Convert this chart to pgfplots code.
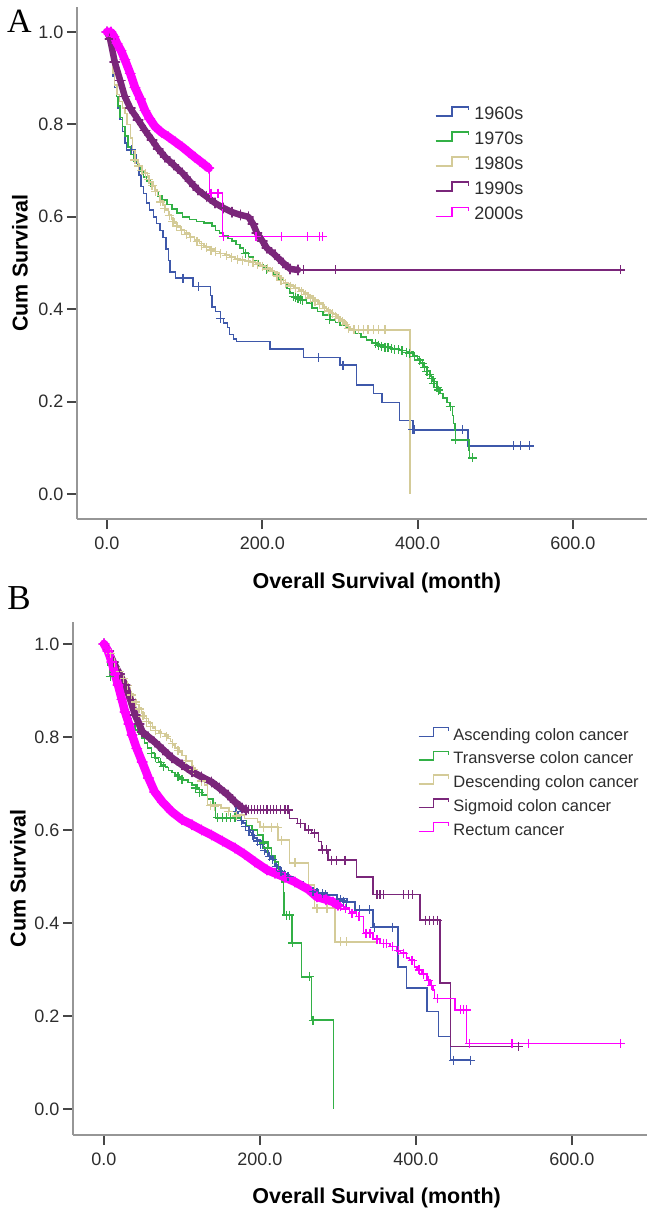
\documentclass[border=0pt]{standalone}
\usepackage{fontspec}
\setmainfont{Liberation Sans}
\newfontfamily\letterfont{Liberation Serif}
\usepackage{pgfplots}
\pgfplotsset{compat=1.18}

\definecolor{c60}{RGB}{62,88,170}
\definecolor{c70}{RGB}{50,176,70}
\definecolor{c80}{RGB}{212,203,152}
\definecolor{c90}{RGB}{122,38,122}
\definecolor{c00}{RGB}{255,0,255}
\definecolor{axgray}{RGB}{150,150,150}
\definecolor{tickgray}{RGB}{70,70,70}
\definecolor{labgray}{RGB}{45,45,45}

\pgfplotsset{
  km/.style={
    scale only axis,
    axis x line=bottom, axis y line=left,
    axis line style={-, draw=axgray, line width=2.4pt},
    tick align=outside,
    major tick length=10pt,
    tick style={draw=tickgray, line width=2pt},
    xtick={0,200,400,600}, xticklabels={0.0,200.0,400.0,600.0},
    ytick={0,0.2,0.4,0.6,0.8,1.0}, yticklabels={0.0,0.2,0.4,0.6,0.8,1.0},
    ticklabel style={font=\fontsize{18}{20}\selectfont, text=labgray},
    xticklabel style={yshift=-4pt},
    label style={font=\fontsize{21.5}{24}\selectfont\bfseries, text=black},
    legend cell align=left,
    step/.style={const plot, line width=1.5pt, forget plot},
    band/.style={line width=##1, line join=round, line cap=round, forget plot,
      mark=+, mark size=4.8pt, mark options={line width=1.6pt, solid}},
    cens/.style={only marks, mark=+, mark size=4.5pt, mark options={line width=1.2pt, solid}, forget plot},
  }
}

\begin{document}
\begin{tikzpicture}
\path[use as bounding box] (0,0) rectangle (653pt,-1215pt);

% ---------------- Panel A ----------------
\begin{axis}[km,
  at={(77pt,-519pt)}, anchor=south west,
  width=570pt, height=512pt,
  xmin=-38.6, xmax=695.4, ymin=-0.0541, ymax=1.054,
  xlabel={Overall Survival (month)}, ylabel={Cum Survival},
  xlabel style={at={(axis description cs:0.526,-0.125)}, anchor=center},
  ylabel style={at={(axis description cs:-0.1,0.5)}, anchor=center},
  legend image code/.code={\draw[#1] (0pt,-3.2pt) -- (16.5pt,-3.2pt) -- (16.5pt,5.8pt) -- (33pt,5.8pt) -- (33pt,2.5pt);},
  legend style={draw=none, fill=none, inner sep=0pt, outer sep=0pt,
    at={(axis description cs:0.628,0.806)}, anchor=north west,
    font=\fontsize{18}{20}\selectfont, row sep=12pt,
    cells={anchor=west},
    nodes={inner sep=0pt, text height=13pt, text depth=0pt, text=labgray},
    /tikz/every odd column/.append style={column sep=5pt}},
]
\addlegendimage{c60, line width=1.5pt}
\addlegendimage{c70, line width=1.5pt}
\addlegendimage{c80, line width=1.5pt}
\addlegendimage{c90, line width=1.5pt}
\addlegendimage{c00, line width=1.5pt}
\legend{1960s,1970s,1980s,1990s,2000s}

% 1960s
\addplot[c60, step] coordinates {(0,1.0)(2,0.985)(4,0.96)(6,0.935)(8,0.905)(10,0.88)(12,0.86)(14,0.835)(17,0.81)(20,0.785)(23,0.76)(25,0.745)(35,0.735)(38,0.715)(41,0.69)(44,0.665)(47,0.65)(51,0.63)(55,0.615)(60,0.6)(64,0.585)(68,0.57)(72,0.555)(76,0.53)(79,0.505)(81,0.481)(88,0.467)(111,0.449)(133,0.43)(135,0.405)(140,0.395)(146,0.38)(150,0.37)(155,0.36)(158,0.345)(163,0.335)(167,0.330)(210,0.314)(253,0.295)(300,0.279)(321,0.236)(343,0.218)(354,0.198)(377,0.159)(394,0.139)(465,0.104)(549,0.104)};
\addplot[c60, cens] coordinates {(32,0.745)(98,0.467)(118,0.449)(146,0.38)(272,0.295)(304,0.279)(394,0.139)(396,0.139)(458,0.139)(523,0.104)(532,0.104)(544,0.104)};

% 1970s
\addplot[c70, step] coordinates {(0,1.0)(2,0.98)(4,0.96)(6,0.935)(8,0.91)(10,0.885)(12,0.86)(14,0.84)(17,0.815)(20,0.795)(23,0.775)(27,0.751)(31,0.735)(35,0.72)(39,0.71)(43,0.698)(47,0.686)(51,0.677)(56,0.665)(61,0.655)(66,0.645)(71,0.636)(77,0.627)(84,0.617)(90,0.608)(97,0.60)(106,0.594)(115,0.59)(125,0.586)(135,0.58)(140,0.57)(145,0.565)(150,0.558)(156,0.553)(161,0.548)(166,0.54)(171,0.532)(176,0.522)(182,0.513)(188,0.505)(195,0.496)(201,0.49)(208,0.482)(214,0.474)(220,0.465)(227,0.456)(232,0.445)(236,0.435)(240,0.427)(250,0.42)(257,0.413)(264,0.403)(271,0.395)(278,0.387)(287,0.377)(294,0.371)(300,0.366)(307,0.36)(313,0.355)(320,0.347)(327,0.34)(334,0.333)(341,0.327)(348,0.322)(356,0.318)(366,0.315)(376,0.311)(386,0.307)(394,0.3)(400,0.292)(404,0.285)(408,0.276)(412,0.266)(416,0.254)(420,0.243)(425,0.23)(429,0.218)(433,0.208)(438,0.198)(442,0.189)(445,0.17)(446,0.153)(448,0.139)(449,0.117)(465,0.117)(466,0.095)(467,0.078)(471,0.078)};
\addplot[c70, cens] coordinates {(150,0.558)(178,0.52)(205,0.486)(240,0.427)(243,0.425)(246,0.423)(249,0.421)(252,0.419)(287,0.377)(346,0.325)(350,0.322)(354,0.32)(358,0.318)(362,0.317)(366,0.315)(370,0.313)(375,0.312)(380,0.31)(386,0.307)(390,0.305)(396,0.298)(402,0.29)(406,0.282)(409,0.273)(412,0.266)(415,0.258)(418,0.25)(421,0.24)(425,0.23)(427,0.225)(442,0.189)(449,0.117)(471,0.078)};

% 1980s
\addplot[c80, step] coordinates {(0,1.0)(2,0.985)(4,0.965)(6,0.94)(8,0.91)(10,0.885)(13,0.865)(16,0.85)(20,0.835)(23,0.824)(26,0.8)(30,0.77)(33,0.745)(36,0.723)(39,0.715)(42,0.71)(46,0.70)(49,0.695)(52,0.686)(55,0.675)(59,0.666)(62,0.658)(65,0.646)(68,0.635)(72,0.625)(75,0.615)(79,0.605)(83,0.595)(87,0.586)(91,0.578)(95,0.572)(100,0.565)(106,0.557)(113,0.55)(119,0.542)(125,0.535)(132,0.53)(139,0.525)(145,0.521)(152,0.518)(158,0.514)(165,0.51)(171,0.507)(178,0.505)(185,0.502)(191,0.5)(197,0.495)(204,0.49)(210,0.484)(216,0.478)(222,0.467)(227,0.457)(234,0.452)(240,0.447)(247,0.441)(253,0.435)(259,0.428)(265,0.42)(272,0.413)(278,0.405)(283,0.399)(287,0.393)(292,0.388)(296,0.383)(300,0.377)(305,0.37)(309,0.362)(313,0.355)(390,0.355)(390,0.0)};
\addplot[c80, cens] coordinates {(36,0.723)(41,0.71)(45,0.70)(50,0.694)(54,0.68)(58,0.668)(63,0.655)(69,0.632)(74,0.618)(80,0.603)(85,0.59)(90,0.58)(96,0.57)(102,0.562)(108,0.555)(116,0.546)(122,0.538)(128,0.533)(134,0.528)(140,0.524)(146,0.52)(154,0.516)(160,0.512)(168,0.508)(175,0.506)(182,0.503)(188,0.501)(194,0.497)(200,0.493)(207,0.487)(213,0.481)(219,0.472)(224,0.462)(230,0.455)(236,0.45)(243,0.444)(250,0.438)(256,0.431)(262,0.424)(268,0.416)(274,0.41)(280,0.402)(285,0.396)(290,0.39)(294,0.385)(298,0.38)(303,0.373)(307,0.366)(311,0.358)(318,0.355)(324,0.355)(330,0.355)(336,0.355)(343,0.355)(350,0.355)(358,0.355)};

% 1990s
\addplot[c90, band=6.5pt] coordinates {(0,1.0)(4,0.985)(10,0.935)(17,0.895)(23,0.86)(30,0.835)(40,0.81)(49,0.787)(58,0.766)(66,0.747)(75,0.729)(86,0.712)(97,0.695)(107,0.676)(117,0.658)(128,0.644)(139,0.63)(150,0.619)(161,0.61)(172,0.604)(182,0.6)(188,0.585)(193,0.565)(200,0.548)(206,0.532)(216,0.518)(227,0.5)(236,0.487)(246,0.485)};
\addplot[c90, step] coordinates {(246,0.485)(661,0.485)};
\addplot[c90, cens] coordinates {(253,0.485)(294,0.485)(661,0.485)};

% 2000s
\addplot[c00, band=8.5pt] coordinates {(0,1.0)(5,1.0)(9,0.99)(13,0.975)(18,0.96)(23,0.94)(30,0.91)(36,0.88)(43,0.855)(49,0.83)(55,0.812)(62,0.795)(70,0.783)(79,0.773)(88,0.762)(97,0.751)(105,0.74)(113,0.729)(120,0.72)(126,0.712)(131,0.705)};
\addplot[c00, step] coordinates {(131,0.705)(132,0.651)(149,0.557)(281,0.557)};
\addplot[c00, cens] coordinates {(134,0.651)(143,0.651)(150,0.557)(192,0.557)(225,0.557)(258,0.557)(274,0.557)(278,0.557)};
\end{axis}

% ---------------- Panel B ----------------
\begin{axis}[km,
  at={(73pt,-1135pt)}, anchor=south west,
  width=574pt, height=513pt,
  xmin=-39.7, xmax=696.2, ymin=-0.056, ymax=1.047,
  xlabel={Overall Survival (month)}, ylabel={Cum Survival},
  xlabel style={at={(axis description cs:0.529,-0.123)}, anchor=center},
  ylabel style={at={(axis description cs:-0.096,0.5)}, anchor=center},
  legend image code/.code={\draw[#1] (0pt,-2.4pt) -- (15pt,-2.4pt) -- (15pt,6.4pt) -- (30pt,6.4pt) -- (30pt,3pt);},
  legend style={draw=none, fill=none, inner sep=0pt, outer sep=0pt,
    at={(axis description cs:0.601,0.7955)}, anchor=north west,
    font=\fontsize{16.5}{18}\selectfont, row sep=10.6pt,
    cells={anchor=west},
    nodes={inner sep=0pt, text height=12pt, text depth=0pt, text=labgray},
    /tikz/every odd column/.append style={column sep=4pt}},
]
\addlegendimage{c60, line width=1.5pt}
\addlegendimage{c70, line width=1.5pt}
\addlegendimage{c80, line width=1.5pt}
\addlegendimage{c90, line width=1.5pt}
\addlegendimage{c00, line width=1.5pt}
\legend{Ascending colon cancer,Transverse colon cancer,Descending colon cancer,Sigmoid colon cancer,Rectum cancer}

% Ascending
\addplot[c60, step] coordinates {(0,1.0)(3,0.99)(6,0.975)(10,0.96)(14,0.945)(18,0.93)(22,0.915)(27,0.9)(31,0.88)(36,0.86)(40,0.84)(45,0.82)(49,0.808)(52,0.8)(58,0.79)(65,0.78)(72,0.77)(80,0.76)(88,0.752)(95,0.745)(104,0.735)(113,0.725)(121,0.715)(130,0.705)(138,0.697)(145,0.69)(152,0.68)(159,0.67)(163,0.662)(166,0.655)(169,0.64)(172,0.628)(175,0.62)(178,0.615)(182,0.607)(185,0.6)(188,0.594)(190,0.589)(193,0.583)(196,0.578)(200,0.57)(203,0.561)(207,0.552)(210,0.545)(214,0.54)(217,0.535)(219,0.525)(223,0.518)(226,0.513)(229,0.508)(232,0.503)(238,0.499)(243,0.493)(249,0.488)(256,0.48)(264,0.471)(275,0.465)(286,0.46)(299,0.452)(312,0.445)(322,0.428)(345,0.391)(377,0.305)(388,0.26)(414,0.21)(429,0.156)(444,0.105)(471,0.105)};
\addplot[c60, cens] coordinates {(170,0.64)(176,0.62)(181,0.608)(186,0.598)(191,0.588)(197,0.576)(201,0.568)(206,0.555)(212,0.543)(216,0.537)(221,0.522)(227,0.511)(231,0.505)(236,0.5)(268,0.468)(273,0.466)(280,0.463)(284,0.461)(303,0.45)(307,0.447)(311,0.445)(328,0.428)(340,0.428)(347,0.391)(370,0.391)(448,0.105)(470,0.105)};

% Transverse
\addplot[c70, step] coordinates {(0,1.0)(3,0.98)(5,0.955)(8,0.93)(12,0.915)(15,0.9)(19,0.885)(22,0.87)(26,0.855)(30,0.84)(35,0.828)(40,0.815)(45,0.805)(49,0.798)(52,0.787)(56,0.776)(61,0.765)(65,0.755)(70,0.747)(74,0.74)(79,0.734)(83,0.728)(87,0.723)(91,0.718)(97,0.712)(102,0.707)(108,0.702)(113,0.697)(119,0.687)(126,0.675)(133,0.666)(140,0.658)(143,0.626)(175,0.62)(183,0.61)(190,0.6)(197,0.589)(204,0.575)(210,0.561)(215,0.545)(219,0.531)(224,0.51)(228,0.488)(230,0.464)(231,0.417)(241,0.357)(253,0.284)(266,0.191)(294,0.191)(294,0.0)};
\addplot[c70, cens] coordinates {(8,0.93)(61,0.765)(66,0.755)(72,0.745)(76,0.737)(95,0.714)(100,0.709)(117,0.69)(122,0.68)(146,0.626)(152,0.626)(157,0.626)(162,0.626)(168,0.626)(205,0.572)(210,0.561)(234,0.417)(238,0.417)(242,0.357)(263,0.284)(268,0.191)};

% Descending
\addplot[c80, step] coordinates {(0,1.0)(3,0.995)(5,0.99)(8,0.98)(10,0.97)(13,0.96)(16,0.95)(19,0.94)(22,0.93)(25,0.92)(28,0.915)(31,0.905)(34,0.893)(37,0.88)(41,0.87)(44,0.862)(48,0.851)(52,0.84)(57,0.83)(62,0.819)(66,0.814)(70,0.81)(74,0.807)(78,0.804)(82,0.797)(85,0.79)(88,0.783)(91,0.776)(96,0.768)(100,0.76)(106,0.748)(113,0.733)(117,0.724)(121,0.715)(125,0.706)(129,0.697)(133,0.654)(150,0.647)(160,0.64)(168,0.632)(180,0.625)(197,0.617)(200,0.606)(223,0.578)(238,0.529)(262,0.482)(270,0.432)(296,0.359)(350,0.359)};
\addplot[c80, cens] coordinates {(8,0.98)(14,0.96)(20,0.94)(25,0.925)(30,0.91)(35,0.89)(40,0.875)(45,0.86)(50,0.845)(55,0.833)(60,0.822)(66,0.814)(72,0.808)(80,0.8)(88,0.785)(95,0.77)(105,0.75)(115,0.73)(125,0.705)(137,0.653)(142,0.65)(160,0.64)(170,0.63)(205,0.606)(215,0.606)(222,0.606)(228,0.578)(245,0.529)(273,0.432)(286,0.432)(303,0.359)(311,0.359)};

% Sigmoid
\addplot[c90, band=7pt] coordinates {(0,1.0)(6,0.985)(12,0.961)(20,0.935)(27,0.912)(34,0.88)(40,0.847)(45,0.828)(49,0.811)(57,0.8)(65,0.789)(76,0.772)(87,0.755)(100,0.74)(113,0.725)(125,0.714)(138,0.703)(148,0.69)(159,0.675)(168,0.66)(177,0.647)(182,0.643)};
\addplot[c90, step] coordinates {(182,0.643)(238,0.625)(248,0.614)(258,0.6)(266,0.593)(275,0.575)(279,0.557)(287,0.535)(324,0.499)(345,0.461)(405,0.406)(431,0.271)(444,0.134)(536,0.134)};
\addplot[c90, cens] coordinates {(185,0.643)(189,0.643)(193,0.643)(197,0.643)(201,0.643)(205,0.643)(209,0.643)(213,0.643)(217,0.643)(221,0.643)(226,0.643)(232,0.643)(236,0.643)(252,0.614)(262,0.6)(270,0.593)(280,0.557)(285,0.557)(292,0.535)(298,0.535)(309,0.535)(350,0.461)(354,0.461)(358,0.461)(384,0.461)(390,0.461)(396,0.461)(412,0.406)(417,0.406)(422,0.406)(428,0.406)(531,0.134)};

% Rectum
\addplot[c00, band=8.5pt] coordinates {(0,1.0)(5,0.985)(10,0.961)(14,0.935)(18,0.912)(23,0.88)(27,0.854)(32,0.828)(36,0.804)(42,0.775)(49,0.746)(57,0.712)(65,0.682)(75,0.66)(87,0.639)(100,0.622)(113,0.611)(125,0.6)(138,0.589)(152,0.576)(168,0.561)(180,0.548)(194,0.531)(209,0.514)(219,0.507)(232,0.498)(245,0.488)(262,0.472)(273,0.456)(285,0.45)(294,0.445)(300,0.438)};
\addplot[c00, step] coordinates {(300,0.438)(307,0.432)(315,0.424)(324,0.414)(333,0.378)(345,0.365)(354,0.356)(367,0.349)(375,0.34)(380,0.335)(388,0.325)(392,0.32)(398,0.305)(401,0.299)(408,0.29)(414,0.277)(418,0.265)(422,0.256)(424,0.238)(450,0.213)(465,0.141)(665,0.141)};
\addplot[c00, cens] coordinates {(303,0.436)(310,0.43)(318,0.42)(327,0.414)(336,0.378)(341,0.378)(350,0.365)(358,0.356)(362,0.356)(370,0.349)(378,0.34)(384,0.335)(395,0.32)(404,0.299)(410,0.29)(416,0.277)(420,0.265)(428,0.238)(457,0.213)(461,0.213)(465,0.213)(469,0.141)(523,0.141)(544,0.141)(662,0.141)};
\end{axis}

\node[font=\letterfont\fontsize{34}{34}\selectfont, inner sep=0pt] at (19.5pt,-21pt) {A};
\node[font=\letterfont\fontsize{35}{35}\selectfont, inner sep=0pt] at (19pt,-598pt) {B};
\end{tikzpicture}
\end{document}
